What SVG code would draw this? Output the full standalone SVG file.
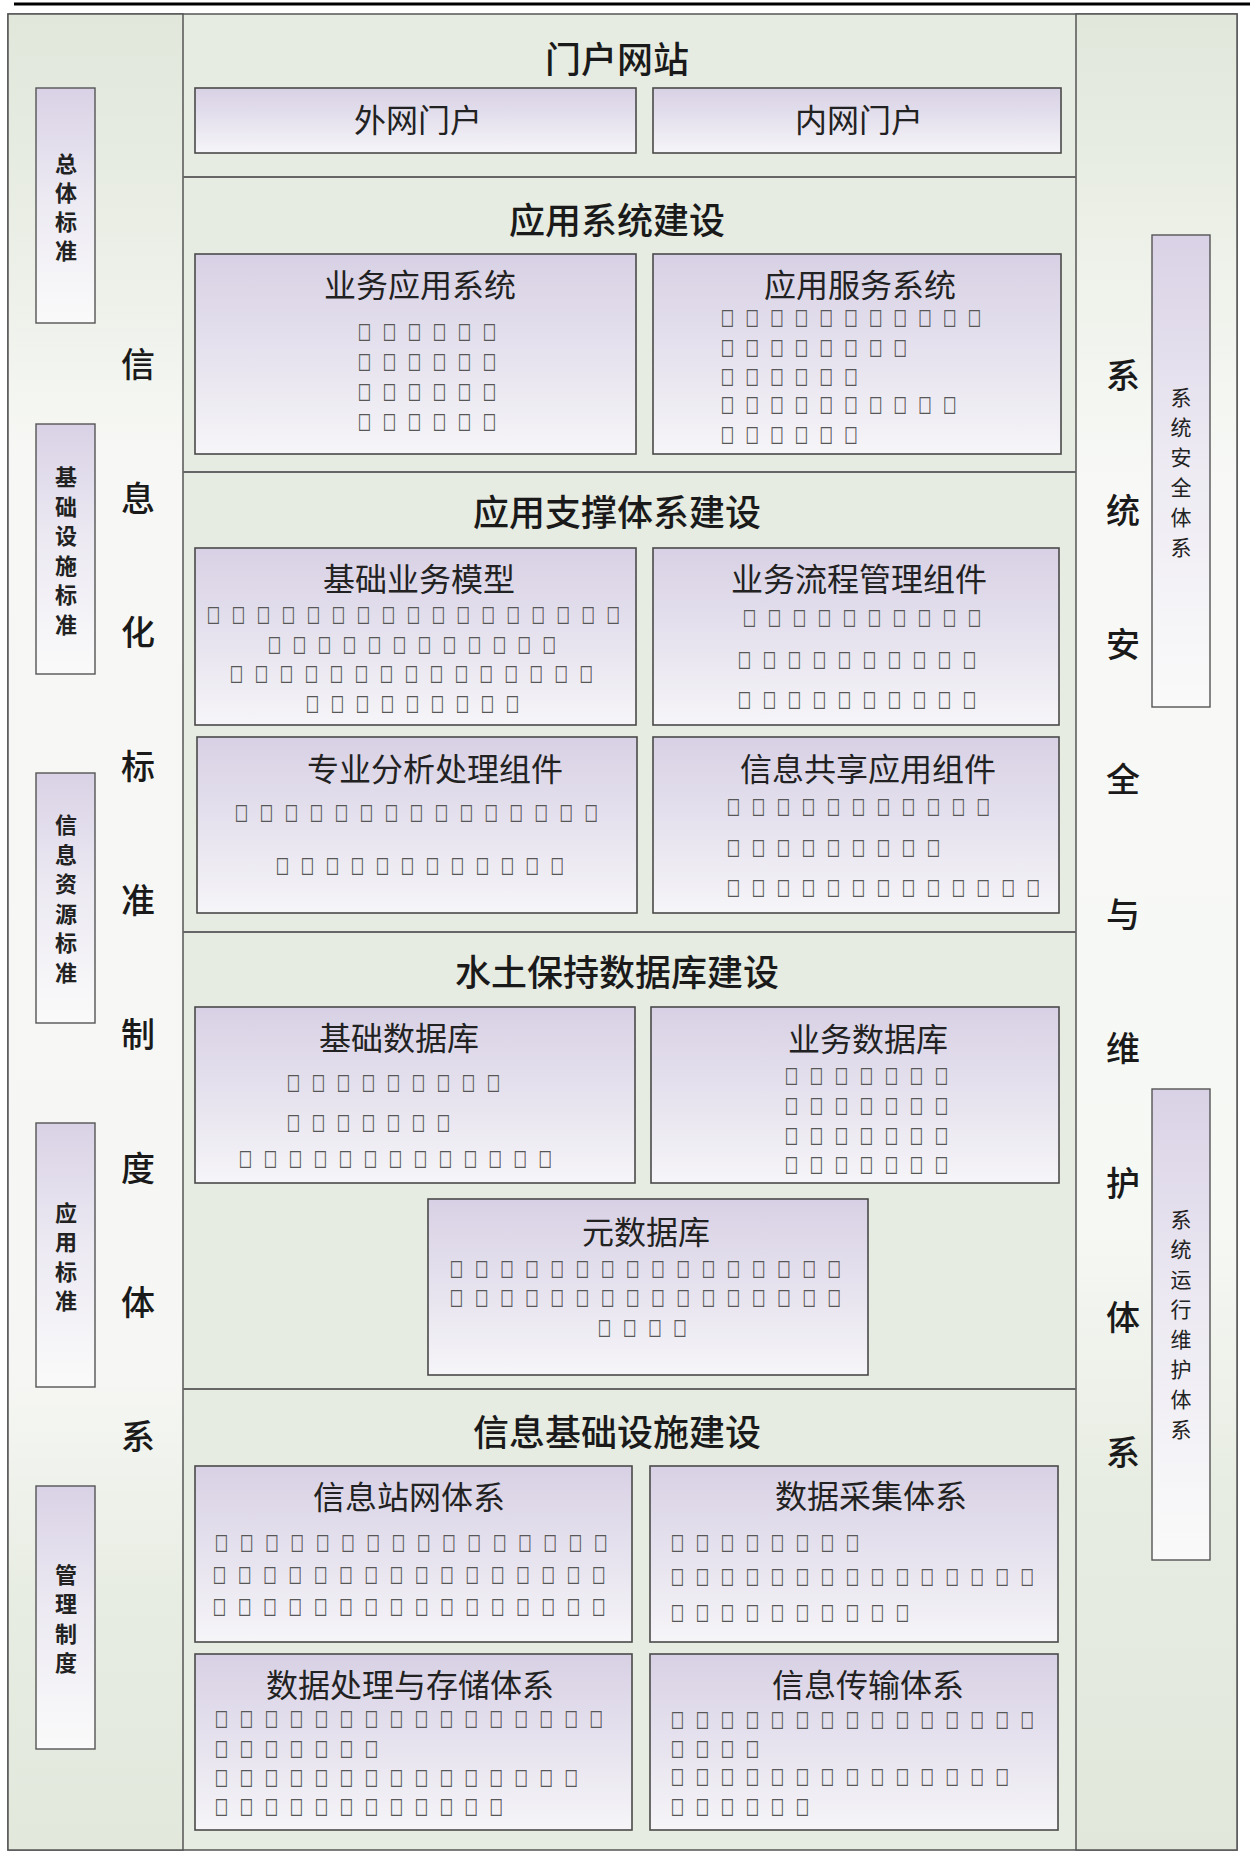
<svg xmlns="http://www.w3.org/2000/svg" width="1250" height="1852" viewBox="0 0 1250 1852">
<defs>
<linearGradient id="boxGrad" x1="0" y1="0" x2="0" y2="1">
<stop offset="0" stop-color="#d8d1e5"/><stop offset="0.5" stop-color="#e6e2ee"/><stop offset="1" stop-color="#f6f5f8"/>
</linearGradient>
<linearGradient id="sboxGrad" x1="0" y1="0" x2="0" y2="1">
<stop offset="0" stop-color="#d9d2e6"/><stop offset="0.45" stop-color="#ece9f2"/><stop offset="1" stop-color="#fafafa"/>
</linearGradient>
<linearGradient id="leftGrad" x1="0" y1="0" x2="0" y2="1">
<stop offset="0" stop-color="#e1e7db"/><stop offset="0.14" stop-color="#ecf0e8"/><stop offset="0.24" stop-color="#f7f8f5"/><stop offset="0.74" stop-color="#f6f7f4"/><stop offset="0.86" stop-color="#e8ede3"/><stop offset="1" stop-color="#e2e8dc"/>
</linearGradient>
<linearGradient id="rightGrad" x1="0" y1="0" x2="0" y2="1">
<stop offset="0" stop-color="#e1e7db"/><stop offset="0.14" stop-color="#eef2ea"/><stop offset="0.26" stop-color="#f8f9f7"/><stop offset="0.66" stop-color="#f6f8f4"/><stop offset="0.8" stop-color="#e8ede3"/><stop offset="1" stop-color="#e1e7db"/>
</linearGradient>
</defs>
<style>
text{font-family:"Noto Sans CJK SC","Noto Sans CJK JP",sans-serif;dominant-baseline:central}
.box{fill:url(#boxGrad);stroke:#4a4a4a;stroke-width:1.6}
.sbox{fill:url(#sboxGrad);stroke:#555;stroke-width:1.4}
.div{stroke:#666;stroke-width:2}
.sec{font-size:36px;font-weight:500;fill:#1a1a1a;text-anchor:middle}
.bt{font-size:32px;font-weight:400;fill:#222;text-anchor:middle}
.big{font-size:34px;font-weight:500;fill:#1a1a1a;text-anchor:middle}
.vs{font-size:22px;font-weight:700;fill:#222;text-anchor:middle}
.vr{font-size:21px;font-weight:400;fill:#222;text-anchor:middle}
.tf{font-size:19px;fill:#444;stroke:#555;stroke-width:0.5;letter-spacing:17.76px}
.p247{letter-spacing:17.32px}
.p252{letter-spacing:18.06px}
.p253{letter-spacing:18.2px}
</style>
<rect x="0" y="0" width="1250" height="1852" fill="#ffffff"/>
<line x1="14" y1="4" x2="1250" y2="4" stroke="#000" stroke-width="3"/>
<g id="frame">
<rect x="8" y="14" width="1229" height="1836" fill="#e7ece2" stroke="#555" stroke-width="1.5"/>
<rect x="8" y="14" width="175" height="1836" fill="url(#leftGrad)" stroke="#555" stroke-width="1.5"/>
<rect x="1076" y="14" width="161" height="1836" fill="url(#rightGrad)" stroke="#555" stroke-width="1.5"/>
<line class="div" x1="183" y1="177" x2="1076" y2="177"/>
<line class="div" x1="183" y1="472" x2="1076" y2="472"/>
<line class="div" x1="183" y1="932" x2="1076" y2="932"/>
<line class="div" x1="183" y1="1389" x2="1076" y2="1389"/>
</g>
<g id="connectors"/>
<g id="left-column">
<text class="big" x="138"><tspan x="138" y="362">信</tspan><tspan x="138" y="496">息</tspan><tspan x="138" y="630">化</tspan><tspan x="138" y="764">标</tspan><tspan x="138" y="898">准</tspan><tspan x="138" y="1032">制</tspan><tspan x="138" y="1166">度</tspan><tspan x="138" y="1300">体</tspan><tspan x="138" y="1434">系</tspan></text>
</g>
<g id="right-column">
<text class="big" x="1123"><tspan x="1123" y="373">系</tspan><tspan x="1123" y="508">统</tspan><tspan x="1123" y="642">安</tspan><tspan x="1123" y="777">全</tspan><tspan x="1123" y="912">与</tspan><tspan x="1123" y="1046">维</tspan><tspan x="1123" y="1181">护</tspan><tspan x="1123" y="1315">体</tspan><tspan x="1123" y="1450">系</tspan></text>
</g>
<g id="std-general"><rect class="sbox" x="36" y="88" width="59" height="235"/>
<text class="vs"><tspan x="66" y="162">总</tspan><tspan x="66" y="191">体</tspan><tspan x="66" y="220">标</tspan><tspan x="66" y="249">准</tspan></text></g>
<g id="std-infra"><rect class="sbox" x="36" y="424" width="59" height="250"/>
<text class="vs"><tspan x="66" y="475">基</tspan><tspan x="66" y="505">础</tspan><tspan x="66" y="534">设</tspan><tspan x="66" y="564">施</tspan><tspan x="66" y="593">标</tspan><tspan x="66" y="623">准</tspan></text></g>
<g id="std-info"><rect class="sbox" x="36" y="773" width="59" height="250"/>
<text class="vs"><tspan x="66" y="823">信</tspan><tspan x="66" y="853">息</tspan><tspan x="66" y="882">资</tspan><tspan x="66" y="912">源</tspan><tspan x="66" y="941">标</tspan><tspan x="66" y="971">准</tspan></text></g>
<g id="std-app"><rect class="sbox" x="36" y="1123" width="59" height="264"/>
<text class="vs"><tspan x="66" y="1211">应</tspan><tspan x="66" y="1240">用</tspan><tspan x="66" y="1270">标</tspan><tspan x="66" y="1299">准</tspan></text></g>
<g id="std-mgmt"><rect class="sbox" x="36" y="1486" width="59" height="263"/>
<text class="vs"><tspan x="66" y="1573">管</tspan><tspan x="66" y="1602">理</tspan><tspan x="66" y="1632">制</tspan><tspan x="66" y="1661">度</tspan></text></g>
<g id="sec-security"><rect class="sbox" x="1152" y="235" width="58" height="472"/>
<text class="vr"><tspan x="1181" y="396">系</tspan><tspan x="1181" y="426">统</tspan><tspan x="1181" y="456">安</tspan><tspan x="1181" y="486">全</tspan><tspan x="1181" y="516">体</tspan><tspan x="1181" y="546">系</tspan></text></g>
<g id="sec-ops"><rect class="sbox" x="1152" y="1089" width="58" height="471"/>
<text class="vr"><tspan x="1181" y="1218">系</tspan><tspan x="1181" y="1248">统</tspan><tspan x="1181" y="1278">运</tspan><tspan x="1181" y="1308">行</tspan><tspan x="1181" y="1338">维</tspan><tspan x="1181" y="1368">护</tspan><tspan x="1181" y="1398">体</tspan><tspan x="1181" y="1428">系</tspan></text></g>
<g id="portal"><text class="sec" x="617" y="57">门户网站</text></g>
<g id="portal-ext"><rect class="box" x="195" y="88" width="441" height="65"/><text class="bt" x="418" y="118">外网门户</text></g>
<g id="portal-int"><rect class="box" x="653" y="88" width="408" height="65"/><text class="bt" x="859" y="118">内网门户</text></g>
<g id="appsys"><text class="sec" x="617" y="218">应用系统建设</text></g>
<g id="biz-app"><rect class="box" x="195" y="254" width="441" height="200"/><text class="bt" x="420" y="283">业务应用系统</text>
<text class="tf" transform="translate(358,332) scale(0.68,1)">□□□□□□</text><text class="tf" transform="translate(358,362) scale(0.68,1)">□□□□□□</text><text class="tf" transform="translate(358,392) scale(0.68,1)">□□□□□□</text><text class="tf" transform="translate(358,422) scale(0.68,1)">□□□□□□</text></g>
<g id="app-svc"><rect class="box" x="653" y="254" width="408" height="200"/><text class="bt" x="860" y="283">应用服务系统</text>
<text class="tf p247" transform="translate(721,318) scale(0.68,1)">□□□□□□□□□□□</text><text class="tf p247" transform="translate(721,348) scale(0.68,1)">□□□□□□□□</text><text class="tf p247" transform="translate(721,377) scale(0.68,1)">□□□□□□</text><text class="tf p247" transform="translate(721,405) scale(0.68,1)">□□□□□□□□□□</text><text class="tf p247" transform="translate(721,435) scale(0.68,1)">□□□□□□</text></g>
<g id="support"><text class="sec" x="617" y="510">应用支撑体系建设</text></g>
<g id="base-model"><rect class="box" x="195" y="548" width="441" height="177"/><text class="bt" x="419" y="577">基础业务模型</text>
<text class="tf" transform="translate(207,615) scale(0.68,1)">□□□□□□□□□□□□□□□□□</text><text class="tf" transform="translate(268,645) scale(0.68,1)">□□□□□□□□□□□□</text><text class="tf" transform="translate(230,674) scale(0.68,1)">□□□□□□□□□□□□□□□</text><text class="tf" transform="translate(306,704) scale(0.68,1)">□□□□□□□□□</text></g>
<g id="flow-comp"><rect class="box" x="653" y="548" width="406" height="177"/><text class="bt" x="859" y="577">业务流程管理组件</text>
<text class="tf" transform="translate(743,618) scale(0.68,1)">□□□□□□□□□□</text><text class="tf" transform="translate(738,660) scale(0.68,1)">□□□□□□□□□□</text><text class="tf" transform="translate(738,700) scale(0.68,1)">□□□□□□□□□□</text></g>
<g id="analysis-comp"><rect class="box" x="197" y="737" width="440" height="176"/><text class="bt" x="435" y="767">专业分析处理组件</text>
<text class="tf" transform="translate(235,813) scale(0.68,1)">□□□□□□□□□□□□□□□</text><text class="tf" transform="translate(276,866) scale(0.68,1)">□□□□□□□□□□□□</text></g>
<g id="share-comp"><rect class="box" x="653" y="737" width="406" height="176"/><text class="bt" x="868" y="767">信息共享应用组件</text>
<text class="tf" transform="translate(727,807) scale(0.68,1)">□□□□□□□□□□□</text><text class="tf" transform="translate(727,848) scale(0.68,1)">□□□□□□□□□</text><text class="tf" transform="translate(727,888) scale(0.68,1)">□□□□□□□□□□□□□</text></g>
<g id="database"><text class="sec" x="617" y="970">水土保持数据库建设</text></g>
<g id="base-db"><rect class="box" x="195" y="1007" width="440" height="176"/><text class="bt" x="399" y="1036">基础数据库</text>
<text class="tf" transform="translate(287,1083) scale(0.68,1)">□□□□□□□□□</text><text class="tf" transform="translate(287,1123) scale(0.68,1)">□□□□□□□</text><text class="tf" transform="translate(239,1159) scale(0.68,1)">□□□□□□□□□□□□□</text></g>
<g id="biz-db"><rect class="box" x="651" y="1007" width="408" height="176"/><text class="bt" x="868" y="1037">业务数据库</text>
<text class="tf" transform="translate(785,1076) scale(0.68,1)">□□□□□□□</text><text class="tf" transform="translate(785,1106) scale(0.68,1)">□□□□□□□</text><text class="tf" transform="translate(785,1136) scale(0.68,1)">□□□□□□□</text><text class="tf" transform="translate(785,1165) scale(0.68,1)">□□□□□□□</text></g>
<g id="meta-db"><rect class="box" x="428" y="1199" width="440" height="176"/><text class="bt" x="646" y="1230">元数据库</text>
<text class="tf p252" transform="translate(450,1269) scale(0.68,1)">□□□□□□□□□□□□□□□□</text><text class="tf p252" transform="translate(450,1298) scale(0.68,1)">□□□□□□□□□□□□□□□□</text><text class="tf p252" transform="translate(598,1328) scale(0.68,1)">□□□□</text></g>
<g id="infra"><text class="sec" x="617" y="1430">信息基础设施建设</text></g>
<g id="station-net"><rect class="box" x="195" y="1466" width="437" height="176"/><text class="bt" x="409" y="1495">信息站网体系</text>
<text class="tf p253" transform="translate(215,1543) scale(0.68,1)">□□□□□□□□□□□□□□□□</text><text class="tf p253" transform="translate(213,1575) scale(0.68,1)">□□□□□□□□□□□□□□□□</text><text class="tf p253" transform="translate(213,1607) scale(0.68,1)">□□□□□□□□□□□□□□□□</text></g>
<g id="collect"><rect class="box" x="650" y="1466" width="408" height="176"/><text class="bt" x="871" y="1494">数据采集体系</text>
<text class="tf" transform="translate(671,1543) scale(0.68,1)">□□□□□□□□</text><text class="tf" transform="translate(671,1577) scale(0.68,1)">□□□□□□□□□□□□□□□</text><text class="tf" transform="translate(671,1613) scale(0.68,1)">□□□□□□□□□□</text></g>
<g id="process-store"><rect class="box" x="195" y="1654" width="437" height="176"/><text class="bt" x="410" y="1683">数据处理与存储体系</text>
<text class="tf" transform="translate(215,1719) scale(0.68,1)">□□□□□□□□□□□□□□□□</text><text class="tf" transform="translate(215,1749) scale(0.68,1)">□□□□□□□</text><text class="tf" transform="translate(215,1778) scale(0.68,1)">□□□□□□□□□□□□□□□</text><text class="tf" transform="translate(215,1807) scale(0.68,1)">□□□□□□□□□□□□</text></g>
<g id="transmit"><rect class="box" x="650" y="1654" width="408" height="176"/><text class="bt" x="868" y="1683">信息传输体系</text>
<text class="tf" transform="translate(671,1720) scale(0.68,1)">□□□□□□□□□□□□□□□</text><text class="tf" transform="translate(671,1749) scale(0.68,1)">□□□□</text><text class="tf" transform="translate(671,1777) scale(0.68,1)">□□□□□□□□□□□□□□</text><text class="tf" transform="translate(671,1807) scale(0.68,1)">□□□□□□</text></g>
</svg>
